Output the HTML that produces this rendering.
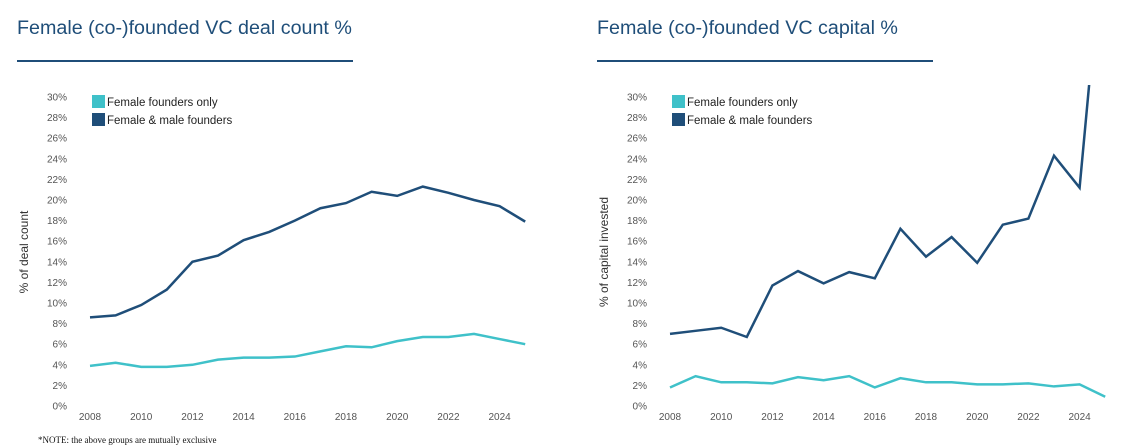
<!DOCTYPE html>
<html><head><meta charset="utf-8"><style>
html,body{margin:0;padding:0;background:#fff;width:1144px;height:448px;overflow:hidden}
svg{display:block;font-family:"Liberation Sans",sans-serif}
</style></head><body>
<svg id="c" width="1144" height="448" viewBox="0 0 1144 448"></svg>
<script>
const years=[2008,2009,2010,2011,2012,2013,2014,2015,2016,2017,2018,2019,2020,2021,2022,2023,2024,2025];
const yTicks=[0,2,4,6,8,10,12,14,16,18,20,22,24,26,28,30];
const xTickYears=[2008,2010,2012,2014,2016,2018,2020,2022,2024];
const dealOnly=[3.9,4.2,3.8,3.8,4.0,4.5,4.7,4.7,4.8,5.3,5.8,5.7,6.3,6.7,6.7,7.0,6.5,6.0];
const dealMixed=[8.6,8.8,9.8,11.3,14.0,14.6,16.1,16.9,18.0,19.2,19.7,20.8,20.4,21.3,20.7,20.0,19.4,17.9];
const capOnly=[1.8,2.9,2.3,2.3,2.2,2.8,2.5,2.9,1.8,2.7,2.3,2.3,2.1,2.1,2.2,1.9,2.1,0.9];
const capMixed=[7.0,7.3,7.6,6.7,11.7,13.1,11.9,13.0,12.4,17.2,14.5,16.4,13.9,17.6,18.2,24.3,21.2,48];
const DARK="#1f4e79",CYAN="#3fc1c9";
const svg=document.getElementById('c');
const NS="http://www.w3.org/2000/svg";
function mk(tag,attrs,parent){const e=document.createElementNS(NS,tag);for(const k in attrs)e.setAttribute(k,attrs[k]);(parent||svg).appendChild(e);return e;}
function chart(ox,title,ytitle,only,mixed,key){
  const g=mk('g',{});
  
  
  const x=y=>ox+90+(y-2008)*25.6;
  const yv=v=>406-v*10.3;
  const t=mk('text',{x:ox+17,y:34,'font-size':19.7,fill:DARK},g);t.textContent=title;
  
  
  const ul=mk('rect',{x:ox+17,y:60,width:336,height:2,fill:DARK},g);
  
  
  yTicks.forEach(v=>{const l=mk('text',{x:ox+67,y:yv(v)+3.5,'font-size':10,fill:'#555','text-anchor':'end'},g);l.textContent=v+'%';
    
    });
  xTickYears.forEach(yr=>{const l=mk('text',{x:x(yr),y:420,'font-size':10,fill:'#555','text-anchor':'middle'},g);l.textContent=yr;
    
    });
  const yt=mk('text',{transform:`translate(${ox+28},252) rotate(-90)`,'font-size':12,fill:'#333','text-anchor':'middle'},g);yt.textContent=ytitle;
  
  
  const cp=mk('clipPath',{id:'clip'+key},g);mk('rect',{x:ox+70,y:85,width:480,height:340},cp);
  [[only,CYAN,'female-only-line'],[mixed,DARK,'female-male-line']].forEach(([d,c,n])=>{
    const p=mk('polyline',{points:d.map((v,i)=>x(years[i])+','+yv(v)).join(' '),fill:'none',stroke:c,'stroke-width':2.5,'stroke-linejoin':'miter','clip-path':`url(#clip${key})`},g);
    
    
  });
  [[CYAN,'Female founders only',95],[DARK,'Female & male founders',113]].forEach(([c,s,yy])=>{
    const r=mk('rect',{x:ox+92,y:yy,width:13,height:13,fill:c},g);
    
    
    const tx=mk('text',{x:ox+107,y:yy+11,'font-size':11.5,fill:'#222'},g);tx.textContent=s;
    
    
  });
}
chart(0,'Female (co-)founded VC deal count %','% of deal count',dealOnly,dealMixed,'deal');
chart(580,'Female (co-)founded VC capital %','% of capital invested',capOnly,capMixed,'capital');
const n=mk('text',{x:38,y:443,'font-size':9,fill:'#111','font-family':'Liberation Serif, serif'});
n.textContent='*NOTE: the above groups are mutually exclusive';


</script>
</body></html>
